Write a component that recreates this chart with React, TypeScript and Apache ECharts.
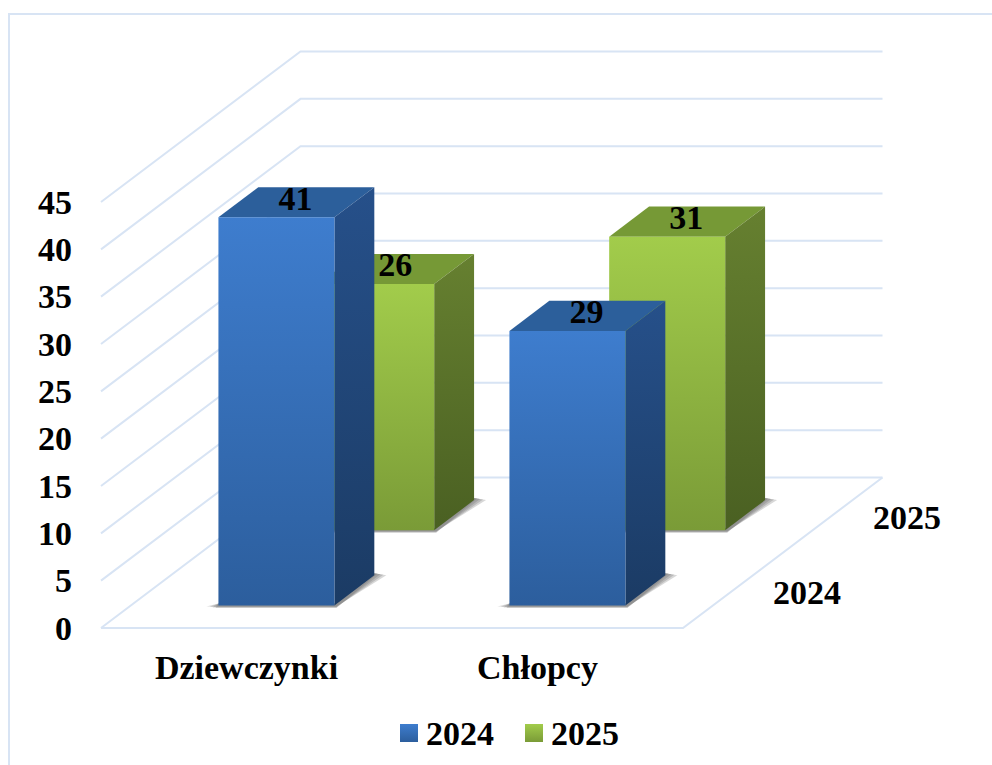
import React, { useEffect, useRef } from "react";
import * as echarts from "echarts";

const categories = ["Dziewczynki", "Chłopcy"];
const seriesNames = ["2024", "2025"];
const values2024 = [41, 29];
const values2025 = [26, 31];
const yTicks = [0, 5, 10, 15, 20, 25, 30, 35, 40, 45];

const FONT = "'Liberation Serif', serif";
const FONT_SIZE = 34;
const LINE = "#D8E4F4";

// oblique projection of the depth axis
const DEPTH_X = 199.5;
const DEPTH_Y = 150.5;
const BAR_RATIO = 0.3986; // bar width / category width
const SLOT = 0.5; // depth share of one series
const BAR_DEPTH = 0.2; // bar depth as a share of the whole floor
const BAR_START = 0.15; // gap before the bar, as a share of the whole floor
const SHADOW_STEPS = [12, 9, 6, 3]; // soft floor shadow, widest layer first

const lg = (a: string, b: string) =>
  new echarts.graphic.LinearGradient(0, 0, 0, 1, [
    { offset: 0, color: a },
    { offset: 1, color: b },
  ]);

const palette = [
  { front: ["#3E7DCE", "#2C5E9D"], side: ["#26508A", "#1B3B64"], top: "#2C5F9B", legend: ["#3E7DCE", "#2C5E9D"] },
  { front: ["#A2CC4B", "#7A9B37"], side: ["#668030", "#4A6022"], top: "#769936", legend: ["#A2CC4B", "#7A9B37"] },
];

function barSeries(seriesIndex: number, values: number[]) {
  const colors = palette[seriesIndex];
  return {
    type: "custom",
    name: seriesNames[seriesIndex],
    z: 10 - seriesIndex,
    itemStyle: { color: lg(colors.legend[0], colors.legend[1]) },
    data: values.map((v, i) => [i, v]),
    encode: { x: 0, y: 1 },
    renderItem: (_params: any, api: any) => {
      const cat = api.value(0);
      const val = api.value(1);
      const base = api.coord([cat, 0]);
      const top = api.coord([cat, val]);
      const w = api.size([1, 0])[0] * BAR_RATIO;
      const depth = seriesIndex * SLOT + BAR_START;
      const ox = DEPTH_X * depth;
      const oy = DEPTH_Y * depth;
      const dx = DEPTH_X * BAR_DEPTH;
      const dy = DEPTH_Y * BAR_DEPTH;
      const l = base[0] - w / 2 + ox;
      const r = l + w;
      const b = base[1] - oy;
      const t = top[1] - oy;
      const shadows = SHADOW_STEPS.map((s) => ({
        type: "polygon",
        shape: {
          points: [
            [l - s, b + 3 - s / 6],
            [r + 2, b + 3 - s / 6],
            [r + dx + s, b - dy + s / 6 - 2],
            [r + dx, b - dy - 2],
            [r, b - 2],
            [l, b - 2],
          ],
        },
        style: { fill: "rgba(90,90,90,0.24)" },
      }));
      return {
        type: "group",
        children: [
          ...shadows,
          {
            type: "polygon",
            shape: { points: [[l, t], [r, t], [r + dx, t - dy], [l + dx, t - dy]] },
            style: { fill: colors.top },
          },
          {
            type: "polygon",
            shape: { points: [[r, t], [r + dx, t - dy], [r + dx, b - dy], [r, b]] },
            style: { fill: lg(colors.side[0], colors.side[1]) },
          },
          {
            type: "rect",
            shape: { x: l, y: t, width: w, height: b - t },
            style: { fill: lg(colors.front[0], colors.front[1]) },
          },
          {
            type: "text",
            x: l + w / 2 + dx / 2 - 1,
            y: t - dy / 2 - 4,
            z2: 50,
            style: {
              text: String(val),
              font: `bold ${FONT_SIZE}px ${FONT}`,
              fill: "#000",
              align: "center",
              verticalAlign: "middle",
            },
          },
        ],
      };
    },
  };
}

const wallSeries = {
  type: "custom",
  name: "walls",
  z: 1,
  silent: true,
  data: yTicks.map((v) => [0, v]),
  encode: { x: 0, y: 1 },
  renderItem: (params: any, api: any) => {
    const cs = params.coordSys;
    const y = api.coord([0, api.value(1)])[1];
    const left = cs.x;
    const right = cs.x + cs.width;
    const pts = [
      [left, y],
      [left + DEPTH_X, y - DEPTH_Y],
      [right + DEPTH_X, y - DEPTH_Y],
    ];
    const children: any[] = [
      { type: "polyline", shape: { points: pts }, style: { stroke: LINE, lineWidth: 2, fill: "none" } },
    ];
    if (api.value(1) === 0) {
      children.push({
        type: "polyline",
        shape: { points: [[left, y], [right, y], [right + DEPTH_X, y - DEPTH_Y]] },
        style: { stroke: LINE, lineWidth: 2, fill: "none" },
      });
    }
    return { type: "group", children };
  },
};

export default function App() {
  const ref = useRef<HTMLDivElement>(null);
  useEffect(() => {
    if (!ref.current) return;
    const chart = echarts.init(ref.current, undefined, { renderer: "svg" });
    const textBase = { fontFamily: FONT, fontWeight: "bold" as const, fontSize: FONT_SIZE, color: "#000" };
    chart.setOption({
      animation: false,
      backgroundColor: "#fff",
      grid: { left: 101, top: 202, width: 582, height: 426 },
      xAxis: {
        type: "category",
        data: categories,
        axisLine: { show: false },
        axisTick: { show: false },
        splitLine: { show: false },
        axisLabel: { ...textBase, margin: 22 },
      },
      yAxis: {
        type: "value",
        min: 0,
        max: 45,
        interval: 5,
        axisLine: { show: false },
        axisTick: { show: false },
        splitLine: { show: false },
        axisLabel: { ...textBase, margin: 29 },
      },
      legend: {
        left: 400,
        top: 716,
        padding: 0,
        itemWidth: 18,
        itemHeight: 18,
        itemGap: 31,
        selectedMode: false,
        textStyle: { ...textBase, padding: [0, 0, 0, 3] },
        data: seriesNames.map((name, i) => ({
          name,
          icon: "rect",
          itemStyle: { color: lg(palette[i].legend[0], palette[i].legend[1]) },
        })),
      },
      graphic: [
        {
          type: "rect",
          silent: true,
          z: -1,
          shape: { x: 9, y: 14, width: 1100, height: 900 },
          style: { stroke: LINE, lineWidth: 2, fill: "none" },
        },
        {
          type: "text",
          x: 807,
          y: 592,
          style: { text: seriesNames[0], font: `bold ${FONT_SIZE}px ${FONT}`, fill: "#000", align: "center", verticalAlign: "middle" },
        },
        {
          type: "text",
          x: 907,
          y: 517,
          style: { text: seriesNames[1], font: `bold ${FONT_SIZE}px ${FONT}`, fill: "#000", align: "center", verticalAlign: "middle" },
        },
      ],
      series: [wallSeries, barSeries(1, values2025), barSeries(0, values2024)],
    });
    return () => chart.dispose();
  }, []);
  return <div ref={ref} style={{ position: "fixed", left: 0, top: 0, width: 992, height: 765 }} />;
}
